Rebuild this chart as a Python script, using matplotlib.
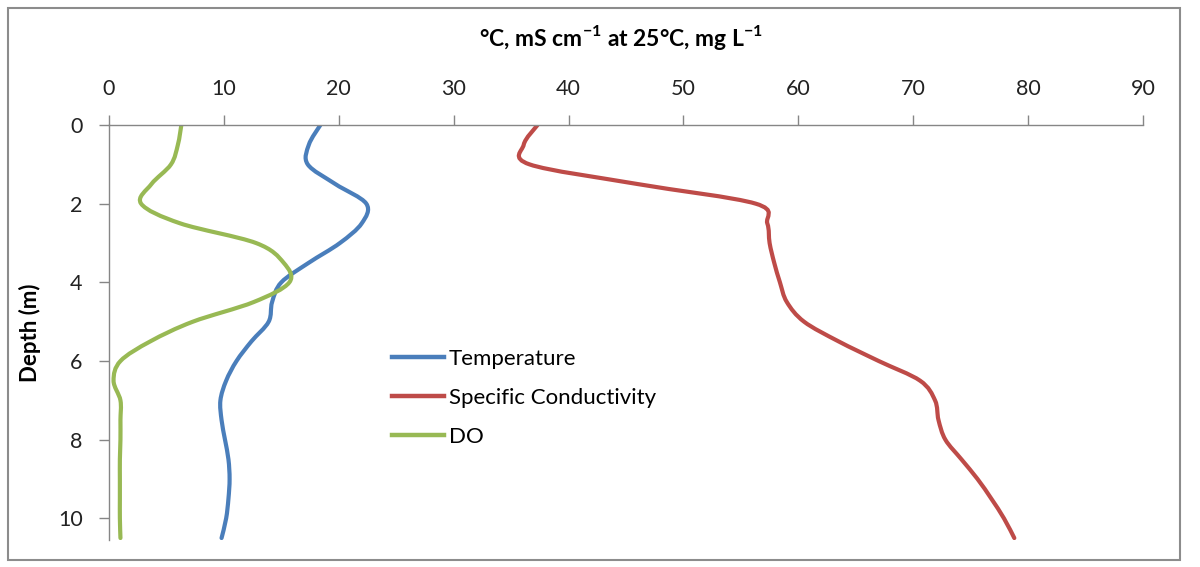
import matplotlib
matplotlib.use("Agg")
import matplotlib.pyplot as plt
import numpy as np
from matplotlib.lines import Line2D
from matplotlib.patches import PathPatch, Rectangle
from matplotlib.path import Path

plt.rcParams["font.family"] = ["Lato", "DejaVu Sans"]
plt.rcParams["mathtext.fontset"] = "custom"
plt.rcParams["mathtext.rm"] = "Lato"
plt.rcParams["mathtext.bf"] = "Lato:bold"

# depth profile, readings every 0.5 m
depth = [0.0, 0.5, 1.0, 1.5, 2.0, 2.5, 3.0, 3.5, 4.0, 4.5, 5.0,
         5.5, 6.0, 6.5, 7.0, 7.5, 8.0, 8.5, 9.0, 9.5, 10.0, 10.5]
temperature = [18.4, 17.4, 17.3, 19.7, 22.4, 22.0, 20.1, 17.4, 15.0, 14.2, 13.9,
               12.4, 11.1, 10.2, 9.7, 9.8, 10.1, 10.4, 10.5, 10.4, 10.2, 9.8]
conductivity = [37.3, 36.1, 36.6, 46.0, 56.3, 57.3, 57.5, 57.9, 58.4, 59.0, 60.5,
                63.5, 67.0, 70.6, 71.9, 72.2, 72.8, 74.2, 75.6, 76.8, 77.9, 78.8]
dissolved_oxygen = [6.3, 6.0, 5.4, 3.7, 2.8, 6.2, 12.8, 15.2, 15.7, 12.6, 7.3,
                    3.6, 1.0, 0.4, 1.0, 1.0, 1.0, 0.95, 0.95, 0.95, 0.95, 1.0]

series = [
    ("Temperature", temperature, "#4A7EBB"),
    ("Specific Conductivity", conductivity, "#BE4B48"),
    ("DO", dissolved_oxygen, "#98B954"),
]


def smooth_path(xs, ys):
    # Excel-style smoothed line: cubic bezier segments through the readings
    pts = np.column_stack([xs, ys]).astype(float)
    n = len(pts)
    verts = [pts[0]]
    codes = [Path.MOVETO]
    for i in range(n - 1):
        p0 = pts[max(i - 1, 0)]
        p1 = pts[i]
        p2 = pts[i + 1]
        p3 = pts[min(i + 2, n - 1)]
        c1 = p1 + (p2 - p0) / 6.0
        c2 = p2 - (p3 - p1) / 6.0
        verts += [c1, c2, p2]
        codes += [Path.CURVE4] * 3
    return Path(verts, codes)


fig = plt.figure(figsize=(12, 5.67), dpi=100)
ax = fig.add_axes([0.0908, 0.0476, 0.8617, 0.7319])

handles = []
for label, values, color in series:
    patch = PathPatch(smooth_path(values, depth), facecolor="none", edgecolor=color,
                      lw=3, capstyle="round", joinstyle="round")
    ax.add_patch(patch)
    handles.append(Line2D([], [], color=color, lw=3.2, label=label))

ax.set_xlim(0, 90)
ax.set_ylim(10.55, 0)
ax.set_xticks(range(0, 91, 10))
ax.set_yticks(range(0, 11, 2))

ax.xaxis.tick_top()
for side in ("right", "bottom"):
    ax.spines[side].set_visible(False)
for side in ("top", "left"):
    ax.spines[side].set_color("#868686")
    ax.spines[side].set_linewidth(1.0)
ax.tick_params(axis="both", direction="out", length=7, width=1.0, color="#868686",
               labelsize=15.5, labelcolor="#222222", pad=12)

fig.text(0.5175, 1 - 37 / 567,
         r"°C, mS cm$^{\mathbf{-1}}$ at 25°C, mg L$^{\mathbf{-1}}$",
         ha="center", va="center", fontsize=16.5, fontweight="bold")
ax.set_ylabel("Depth (m)", fontsize=16, fontweight="bold")
ax.yaxis.set_label_coords(-0.066, 0.5)

ax.legend(handles=handles, loc="upper left", bbox_to_anchor=(0.254, 0.508),
          frameon=False, fontsize=16, handlelength=2.35, handletextpad=0.22,
          labelspacing=0.84)

fig.patches.append(Rectangle((8 / 1200, 1 - 560 / 567), 1172 / 1200, 552 / 567,
                             transform=fig.transFigure, fill=False,
                             edgecolor="#8c8c8c", lw=1.5))

fig.savefig("out.png", dpi=100)
